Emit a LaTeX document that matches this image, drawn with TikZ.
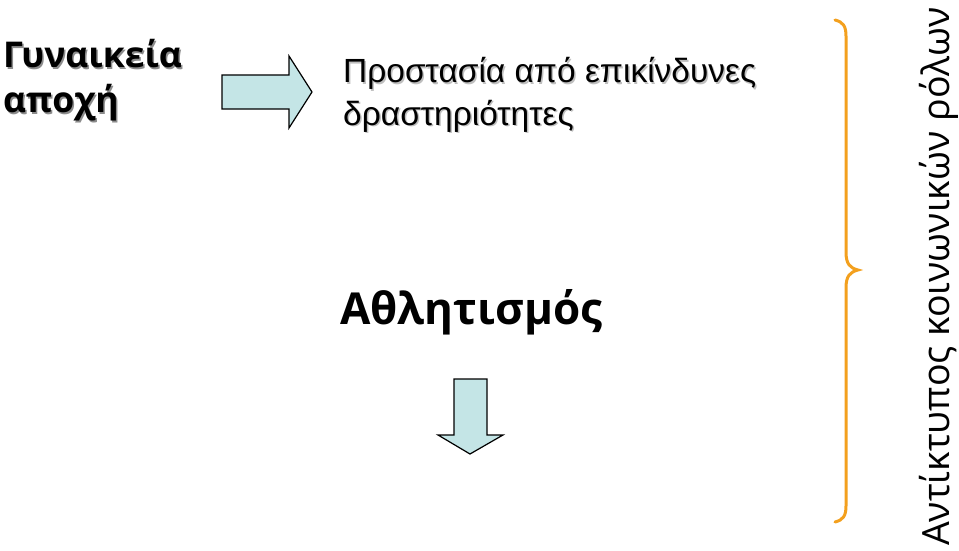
\documentclass[tikz,border=0pt]{standalone}
\usepackage{fontspec}
\newfontfamily\osfont{Open Sans}
\newfontfamily\arfont{Liberation Sans}
\definecolor{arrowfill}{RGB}{196,229,230}
\definecolor{braceorange}{RGB}{243,160,30}
\tikzset{
  bigarrow/.style={draw=black, line width=1.2pt, fill=arrowfill, line join=miter},
  titletext/.style={anchor=base west, inner sep=0pt, font=\osfont\bfseries\fontsize{35.5}{45}\selectfont},
  bodytext/.style={anchor=base west, inner sep=0pt, font=\arfont\fontsize{33.5}{42}\selectfont},
  sporttext/.style={anchor=base west, inner sep=0pt, font=\osfont\bfseries\fontsize{44}{50}\selectfont},
  sidetext/.style={anchor=base west, inner sep=0pt, rotate=90, font=\osfont\fontsize{37.5}{50}\selectfont},
  bracestyle/.style={draw=braceorange, line width=3pt, line cap=round}
}
\begin{document}
\begin{tikzpicture}[x=1pt,y=-1pt]
\path[use as bounding box] (0,0) rectangle (959,551);
% title with shadow
\node[titletext, text=black!45] (t1s) at (4.5,69.5) {Γυναικεία};
\node[titletext, text=black!45] (t2s) at (4.5,114.5) {αποχή};
\node[titletext] (t1) at (3,68) {Γυναικεία};
\node[titletext] (t2) at (3,113) {αποχή};
% right arrow
\draw[bigarrow] (222,75) -- (289,75) -- (289,56) -- (312,92) -- (289,128) -- (289,109) -- (222,109) -- cycle;
% body text
\node[bodytext, text=black!25] (p1s) at (344.5,84.5) {Προστασία από επικίνδυνες};
\node[bodytext, text=black!25] (p2s) at (344.5,126.5) {δραστηριότητες};
\node[bodytext] (p1) at (343,83) {Προστασία από επικίνδυνες};
\node[bodytext] (p2) at (343,125) {δραστηριότητες};
% sport
\node[sporttext] (s) at (340,324) {Αθλητισμός};
% down arrow
\draw[bigarrow] (454,379) -- (487,379) -- (487,435) -- (503,435) -- (470,454) -- (438,435) -- (454,435) -- cycle;
% brace
\draw[bracestyle] (835,20) .. controls (843,22) and (846,26) .. (846,36) -- (846,252) .. controls (846,264) and (850,268) .. (858,270) .. controls (850,272) and (846,276) .. (846,288) -- (846,506) .. controls (846,516) and (843,520) .. (835,522);
% side text
\node[sidetext] (r) at (949,546) {Αντίκτυπος κοινωνικών ρόλων};
\end{tikzpicture}
\end{document}
